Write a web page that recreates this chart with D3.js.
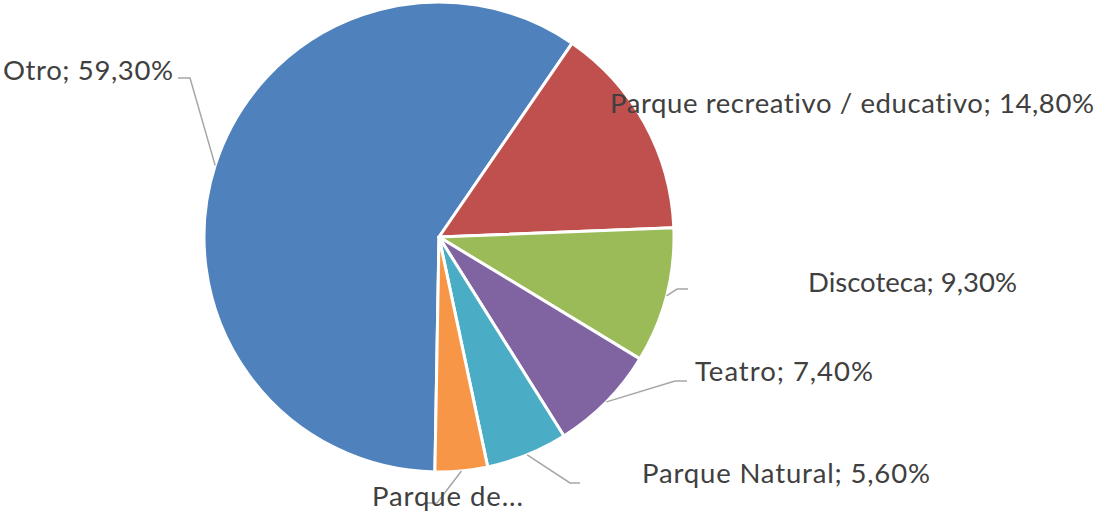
<!DOCTYPE html>
<html>
<head>
<meta charset="utf-8">
<script src="https://cdn.jsdelivr.net/npm/d3@7"></script>
<style>
  html, body { margin: 0; padding: 0; background: #fff; }
  svg { display: block; }
  text { font-variant-ligatures: none; }
</style>
</head>
<body>
<svg id="chart" width="1104" height="516"></svg>
<script>
// ---- data ----
const categories = ["Otro", "Parque recreativo / educativo", "Discoteca", "Teatro", "Parque Natural", "Parque de..."];
const values = [59.3, 14.8, 9.3, 7.4, 5.6, 3.6];
const valueLabels = ["59,30%", "14,80%", "9,30%", "7,40%", "5,60%", ""];

// ---- styles / layout ----
const colors = ["#4F81BD", "#C0504D", "#9BBB59", "#8064A2", "#4BACC6", "#F79646"];
const cx = 439, cy = 237, radius = 235;
const startDeg = 181;
// label layout: text baseline-left (x,y), width, leader elbow & end (null = no leader)
const labelLayout = [
  { x: 3,   y: 80,  w: 170, leader: [[190, 78], [178, 78]] },
  { x: 610, y: 113, w: 484, leader: null },
  { x: 808, y: 292, w: 209, leader: [[677, 289], [688, 289]] },
  { x: 695, y: 381, w: 178, leader: [[675, 381], [687, 381]] },
  { x: 642, y: 483, w: 288, leader: [[570, 483], [580, 483]] },
  { x: 372, y: 506, w: 151, leader: [[437, 503], [425, 503]] }
];

const svg = d3.select("#chart");
const g = svg.append("g").attr("transform", `translate(${cx},${cy})`);

const data = categories.map((c, i) => ({ name: c, value: values[i], idx: i }));
const start = startDeg * Math.PI / 180;
const pie = d3.pie().value(d => d.value).sort(null)
  .startAngle(start).endAngle(start + 2 * Math.PI);
const arcs = pie(data);
const arc = d3.arc().innerRadius(0).outerRadius(radius);

g.selectAll("path.slice").data(arcs).enter().append("path")
  .attr("class", "slice")
  .attr("d", arc)
  .attr("fill", d => colors[d.data.idx])
  .attr("stroke", "#fff")
  .attr("stroke-width", 3)
  .attr("stroke-linejoin", "round");

// leader lines
const leaderG = svg.append("g");
arcs.forEach(a => {
  const L = labelLayout[a.data.idx];
  if (!L.leader) return;
  const mid = (a.startAngle + a.endAngle) / 2;
  const p0 = [cx + radius * Math.sin(mid), cy - radius * Math.cos(mid)];
  const pts = [p0].concat(L.leader);
  leaderG.append("path")
    .attr("d", d3.line()(pts))
    .attr("fill", "none")
    .attr("stroke", "#A6A6A6")
    .attr("stroke-width", 1.5);
});

// labels
const labelG = svg.append("g");
const baseSize = 30;
const texts = arcs.map(a => {
  const i = a.data.idx;
  const L = labelLayout[i];
  const txt = valueLabels[i] ? `${categories[i]}; ${valueLabels[i]}` : categories[i];
  return labelG.append("text")
    .attr("x", L.x).attr("y", L.y)
    .attr("font-family", "Lato, 'Open Sans', sans-serif")
    .attr("font-size", baseSize)
    .attr("fill", "#404040")
    .datum(L)
    .text(txt);
});
// common font size so natural widths do not exceed target widths
let ratio = 1;
texts.forEach(t => {
  const natural = t.node().getComputedTextLength();
  ratio = Math.min(ratio, t.datum().w / natural);
});
const fs = Math.floor(baseSize * ratio * 10) / 10;
texts.forEach(t => {
  t.attr("font-size", fs)
   .attr("textLength", t.datum().w)
   .attr("lengthAdjust", "spacing");
});
</script>
</body>
</html>
